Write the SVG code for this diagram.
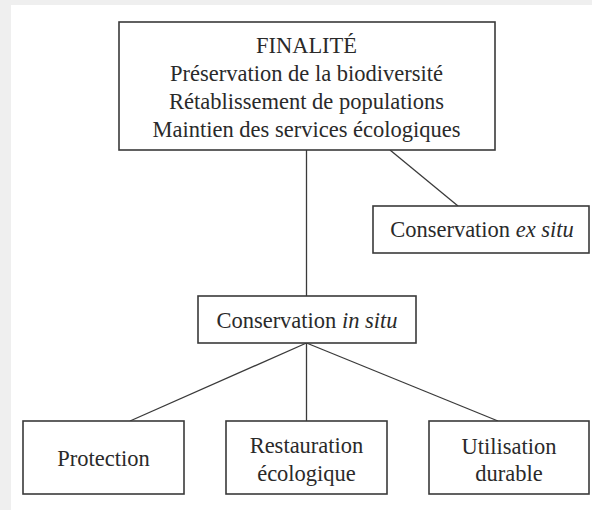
<svg xmlns="http://www.w3.org/2000/svg" width="592" height="510" viewBox="0 0 592 510">
<style>
.box{fill:#fff;stroke:#3a3a3a;stroke-width:1.6}
.t{font-family:"Liberation Serif","Times New Roman",serif;font-size:22.5px;fill:#2a2a2a;text-anchor:middle}
.i{font-style:italic}
.c{stroke:#3a3a3a;stroke-width:1.3;fill:none}
</style>
<rect x="0" y="0" width="592" height="510" fill="#efefef"/>
<rect x="11" y="5" width="581" height="505" fill="#fff"/>
<g id="connectors">
<line class="c" x1="306.5" y1="150" x2="306.5" y2="296"/>
<line class="c" x1="390" y1="150" x2="458" y2="206"/>
<line class="c" x1="306.5" y1="343" x2="130" y2="421"/>
<line class="c" x1="306.5" y1="343" x2="306.5" y2="421"/>
<line class="c" x1="306.5" y1="343" x2="498" y2="421"/>
</g>
<g id="finalite">
<rect class="box" x="119" y="22" width="376" height="128"/>
<text class="t" x="306.5" y="53">FINALITÉ</text>
<text class="t" x="306.5" y="81">Préservation de la biodiversité</text>
<text class="t" x="306.5" y="109">Rétablissement de populations</text>
<text class="t" x="306.5" y="137">Maintien des services écologiques</text>
</g>
<g id="exsitu">
<rect class="box" x="373" y="206" width="216" height="47"/>
<text class="t" x="482" y="237">Conservation <tspan class="i">ex situ</tspan></text>
</g>
<g id="insitu">
<rect class="box" x="198" y="296" width="218" height="47"/>
<text class="t" x="307" y="328">Conservation <tspan class="i">in situ</tspan></text>
</g>
<g id="protection">
<rect class="box" x="23" y="421" width="161" height="73"/>
<text class="t" x="103.5" y="466">Protection</text>
</g>
<g id="restauration">
<rect class="box" x="226" y="421" width="161" height="73"/>
<text class="t" x="306.5" y="453">Restauration</text>
<text class="t" x="306.5" y="481">écologique</text>
</g>
<g id="utilisation">
<rect class="box" x="429" y="421" width="160" height="73"/>
<text class="t" x="509" y="454">Utilisation</text>
<text class="t" x="509" y="481">durable</text>
</g>
</svg>
